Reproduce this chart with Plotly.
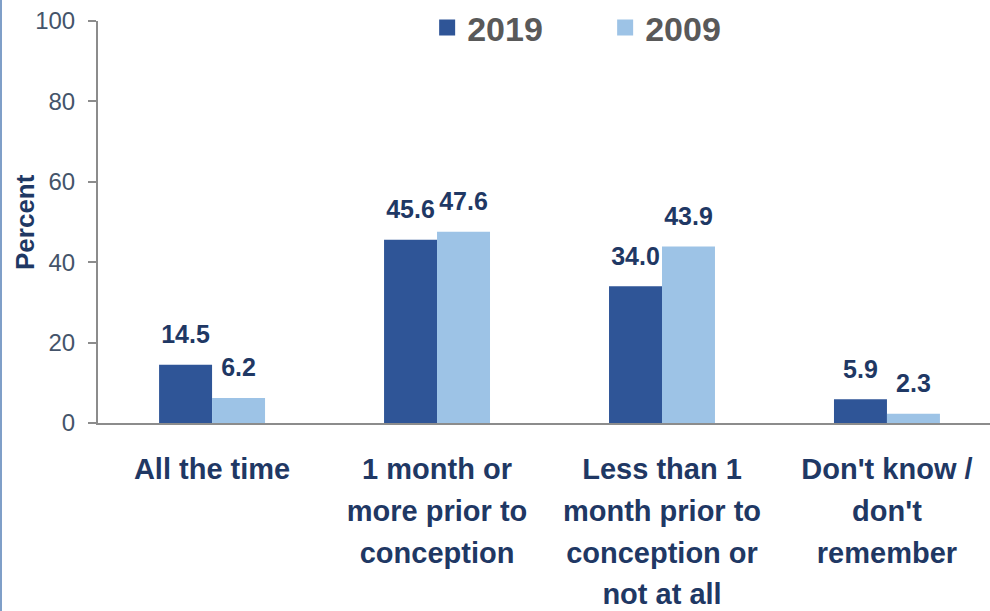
import plotly.graph_objects as go

categories = ["All the time",
              "1 month or<br>more prior to<br>conception",
              "Less than 1<br>month prior to<br>conception or<br>not at all",
              "Don't know /<br>don't<br>remember"]
series_names = ["2019", "2009"]
values_2019 = [14.5, 45.6, 34.0, 5.9]
values_2009 = [6.2, 47.6, 43.9, 2.3]
y_ticks = [0, 20, 40, 60, 80, 100]
y_title = "Percent"

dark = "#2F5597"
light = "#9DC3E6"
navy = "#1F3864"
font_fam = "Liberation Sans, Arial, sans-serif"

def wrap_lines(label, size):
    return "<br>".join(f"<span style='font-size:{size}px'>{ln}</span>" for ln in label.split("<br>"))

tick_text = [wrap_lines(c, 29) for c in categories]
label_tpl = "<span style='font-size:25px'>%{y:.1f}</span><br><span style='font-size:12px'>&nbsp;</span>"

fig = go.Figure()
for name, vals, col in [(series_names[0], values_2019, dark), (series_names[1], values_2009, light)]:
    fig.add_trace(go.Bar(
        x=categories, y=vals, name=name, marker=dict(color=col, line=dict(width=0)),
        texttemplate=label_tpl, textposition="outside", cliponaxis=False,
        constraintext="none",
        textfont=dict(family=font_fam, size=12, color=navy, weight="bold"),
        showlegend=False, hoverinfo="skip"))
    fig.add_trace(go.Scatter(
        x=[None], y=[None], mode="markers", name=name,
        marker=dict(symbol="square", size=20, color=col), showlegend=True))

fig.update_layout(
    width=990, height=611,
    margin=dict(l=98, r=0, t=21, b=188, autoexpand=False),
    paper_bgcolor="white", plot_bgcolor="white",
    barmode="group", bargap=0.529, bargroupgap=0,
    font=dict(family=font_fam, color=navy),
    legend=dict(orientation="h", x=0.369, xanchor="left", y=0.983, yanchor="middle",
                font=dict(family=font_fam, size=34, color="#595959", weight="bold"),
                entrywidth=133, entrywidthmode="pixels",
                bgcolor="rgba(0,0,0,0)", borderwidth=0),
    xaxis=dict(type="category", range=[-0.507, 3.458], automargin=False,
               tickmode="array", tickvals=categories, ticktext=tick_text,
               tickfont=dict(family=font_fam, size=32, color=navy, weight="bold"),
               showline=True, linecolor="#8C8C8C", linewidth=2,
               ticks="", showgrid=False, zeroline=False, ticklabelstandoff=16),
    yaxis=dict(range=[0, 100], tickvals=y_ticks, automargin=False,
               tickfont=dict(family=font_fam, size=24, color="#44546A"),
               ticksuffix="\u00a0",
               showline=True, linecolor="#8C8C8C", linewidth=2,
               ticks="outside", ticklen=8, tickcolor="#8C8C8C", tickwidth=2,
               showgrid=False, zeroline=False, ticklabelstandoff=8),
    annotations=[dict(text=y_title, xref="paper", yref="paper", x=-73/892, y=0.5,
                      xanchor="center", yanchor="middle", textangle=-90, showarrow=False,
                      font=dict(family=font_fam, size=26, color=navy, weight="bold"))],
    shapes=[dict(type="line", xref="paper", yref="paper",
                 x0=-97/892, x1=-97/892, y0=-188/402, y1=1 + 21/402,
                 line=dict(color="#7F9FC8", width=2))],
)

fig.write_html("out.html", config={"displayModeBar": False},
               post_script="document.body.style.margin='0';document.body.style.overflow='hidden';")
